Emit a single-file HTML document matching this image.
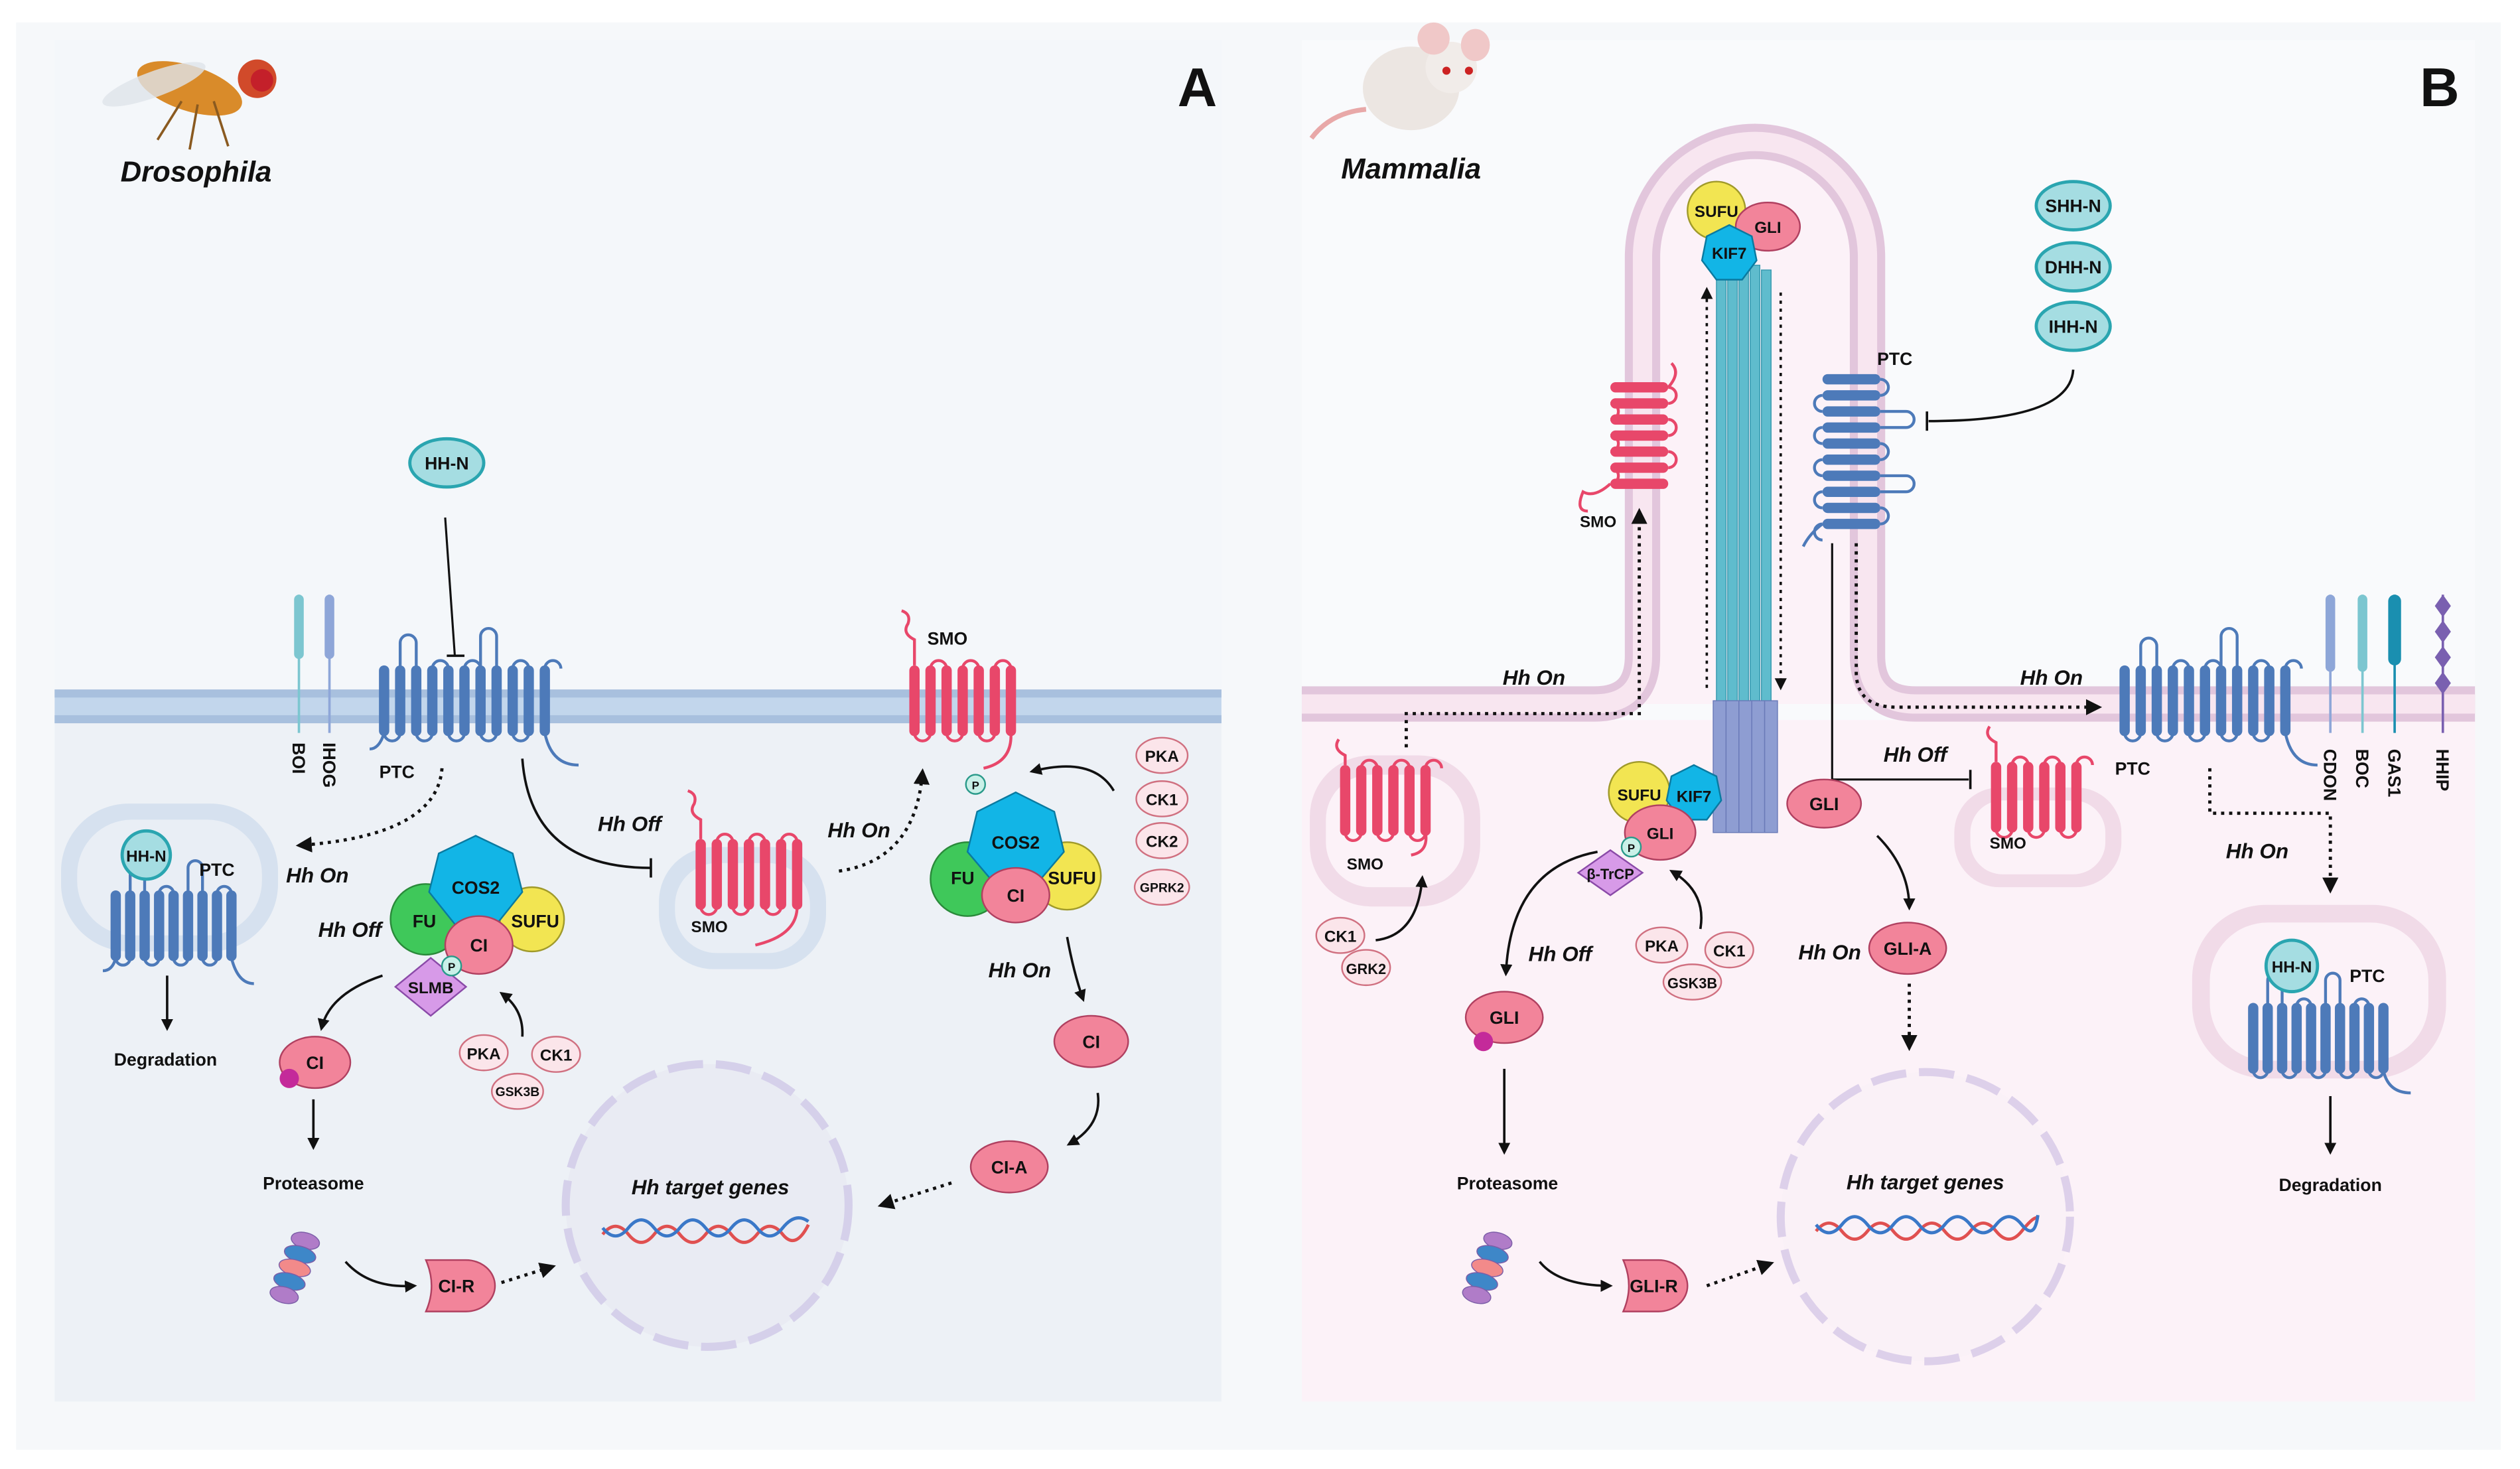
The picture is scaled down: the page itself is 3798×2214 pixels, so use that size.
<!DOCTYPE html>
<html><head><meta charset="utf-8"><style>
html,body{margin:0;padding:0;background:#fff}
svg{display:block}
text{font-family:"Liberation Sans",sans-serif;font-weight:bold;fill:#111}
.it{font-style:italic}
.s{font-size:11px}
.lb{fill:none;stroke:#4d7ab9;stroke-width:1.8}
.lr{fill:none;stroke:#e8476a;stroke-width:1.8}
</style></head><body>
<svg width="3798" height="2214" viewBox="0 0 1568 914" preserveAspectRatio="none" xmlns="http://www.w3.org/2000/svg">
<defs>
<marker id="ar" viewBox="0 0 10 10" refX="8" refY="5" markerWidth="5" markerHeight="5" orient="auto"><path d="M0,0L10,5L0,10z" fill="#111"/></marker>
<rect id="bb" x="-3.2" y="0" width="6.4" height="44" rx="3.2" fill="#4d7ab9"/>
<rect id="rb" x="-3.2" y="0" width="6.4" height="44" rx="3.2" fill="#e8476a"/>
<rect id="hb" x="0" y="-3.2" width="36" height="6.4" rx="3.2" fill="#e8476a"/>
<rect id="hbb" x="0" y="-3.2" width="36" height="6.4" rx="3.2" fill="#4d7ab9"/>
<g id="pro" transform="rotate(15)"><g stroke="#7c5ea8" stroke-width="0.6"><ellipse cx="0" cy="0" rx="9" ry="5" fill="#b07cc8"/><ellipse cx="-1" cy="9" rx="10" ry="5" fill="#3e87c8"/><ellipse cx="-2" cy="18" rx="10" ry="5" fill="#f28a8a"/><ellipse cx="-3" cy="27" rx="10" ry="5" fill="#3e87c8"/><ellipse cx="-4" cy="36" rx="9" ry="5" fill="#b07cc8"/></g></g>
</defs>
<rect x="0" y="0" width="1568" height="914" fill="#fff"/>
<rect x="10" y="14" width="1546" height="888" fill="#f6f8fa"/>
<!-- Panel A -->
<rect x="34" y="25" width="726" height="847" fill="#f4f7fa"/>
<rect x="34" y="448" width="726" height="424" fill="#edf1f6"/>
<rect x="34" y="429" width="726" height="21" fill="#c2d6ec"/>
<rect x="34" y="429" width="726" height="5" fill="#a8c0de"/>
<rect x="34" y="445" width="726" height="5" fill="#a8c0de"/>
<!-- Panel B -->
<rect x="810" y="25" width="730" height="847" fill="#f9fafc"/>
<rect x="810" y="448" width="730" height="424" fill="#fcf2f8"/>
<path d="M1022,438 V160 A70,72 0 0 1 1162,160 V438z" fill="#fcf2f8"/>
<path d="M810,438 H992 Q1022,438 1022,408 V160 A70,72 0 0 1 1162,160 V408 Q1162,438 1192,438 H1540" fill="none" stroke="#e2c6dc" stroke-width="22"/>
<path d="M810,438 H992 Q1022,438 1022,408 V160 A70,72 0 0 1 1162,160 V408 Q1162,438 1192,438 H1540" fill="none" stroke="#f8e6f0" stroke-width="12"/>
<!-- titles -->
<g transform="translate(118,55)"><ellipse cx="0" cy="0" rx="34" ry="14" fill="#d98b2a" transform="rotate(18)"/><ellipse cx="-20" cy="-10" rx="34" ry="8" fill="#dfe4ea" opacity=".8" transform="rotate(-20)"/><circle cx="42" cy="-6" r="12" fill="#d14a2a"/><circle cx="45" cy="-5" r="7" fill="#c4202a"/><g stroke="#8a5a20" stroke-width="1.5"><line x1="-5" y1="8" x2="-20" y2="32"/><line x1="5" y1="10" x2="0" y2="38"/><line x1="15" y1="8" x2="24" y2="36"/></g></g>
<text x="122" y="113" font-size="18" class="it" text-anchor="middle">Drosophila</text>
<text x="745" y="66" font-size="34" text-anchor="middle">A</text>
<g transform="translate(878,50)"><ellipse cx="0" cy="5" rx="30" ry="26" fill="#ece6e2"/><circle cx="25" cy="-8" r="16" fill="#f1ece9"/><ellipse cx="14" cy="-26" rx="10" ry="10" fill="#f0c8c8"/><ellipse cx="40" cy="-22" rx="9" ry="10" fill="#f0c8c8"/><circle cx="22" cy="-6" r="2.5" fill="#c22"/><circle cx="36" cy="-6" r="2.5" fill="#c22"/><path d="M-28,18 Q-50,20 -62,36" stroke="#e8a8a8" stroke-width="3" fill="none"/></g>
<text x="878" y="111" font-size="18" class="it" text-anchor="middle">Mammalia</text>
<text x="1518" y="66" font-size="34" text-anchor="middle">B</text>

<!-- A: HH-N and PTC -->
<ellipse cx="278" cy="288" rx="23" ry="15" fill="#a5dde2" stroke="#2aa5b0" stroke-width="2"/>
<text x="278" y="292" font-size="11" text-anchor="middle">HH-N</text>
<path d="M277,322 L283,408" stroke="#111" stroke-width="1.3" fill="none"/><line x1="278" y1="408" x2="289" y2="408" stroke="#111" stroke-width="1.5"/>
<line x1="186" y1="370" x2="186" y2="456" stroke="#7cc6d0" stroke-width="1.5"/><rect x="183" y="370" width="6" height="40" rx="3" fill="#7cc6d0"/>
<line x1="205" y1="370" x2="205" y2="456" stroke="#8ea6d8" stroke-width="1.5"/><rect x="202" y="370" width="6" height="40" rx="3" fill="#8ea6d8"/>
<text transform="translate(182,462) rotate(90)" class="s">BOI</text>
<text transform="translate(201,462) rotate(90)" class="s">IHOG</text>
<g transform="translate(239,414)"><use href="#bb" x="0"/><use href="#bb" x="10"/><use href="#bb" x="20"/><use href="#bb" x="30"/><use href="#bb" x="40"/><use href="#bb" x="50"/><use href="#bb" x="60"/><use href="#bb" x="70"/><use href="#bb" x="80"/><use href="#bb" x="90"/><use href="#bb" x="100"/></g>
<path class="lb" d="M249,416 V400 A5,5 0 0 1 259,400 V416 m10,0 a5,5 0 0 1 10,0 m10,0 a5,5 0 0 1 10,0 M299,416 V396 A5,5 0 0 1 309,396 V416 m10,0 a5,5 0 0 1 10,0 m10,0 a5,5 0 0 1 10,0"/>
<path class="lb" d="M239,456 a5,5 0 0 0 10,0 m10,0 a5,5 0 0 0 10,0 m10,0 a5,5 0 0 0 10,0 m10,0 a5,5 0 0 0 10,0 m10,0 a5,5 0 0 0 10,0 M339,456 Q343,476 360,476 M239,456 Q236,466 230,466"/>
<text x="236" y="484" class="s">PTC</text>
<!-- vesicle A left -->
<rect x="38" y="500" width="135" height="92" rx="42" fill="#d6e1ef"/>
<rect x="48" y="510" width="115" height="72" rx="34" fill="#e9eef5"/>
<g transform="translate(72,554)"><use href="#bb" x="0"/><use href="#bb" x="9"/><use href="#bb" x="18"/><use href="#bb" x="27"/><use href="#bb" x="36"/><use href="#bb" x="45"/><use href="#bb" x="54"/><use href="#bb" x="63"/><use href="#bb" x="72"/></g>
<path class="lb" d="M81,556 V540 A4.5,4.5 0 0 1 90,540 V556 m9,0 a4.5,4.5 0 0 1 9,0 m9,0 V540 A4.5,4.5 0 0 1 126,540 V556 m9,0 a4.5,4.5 0 0 1 9,0"/>
<path class="lb" d="M72,596 a4.5,4.5 0 0 0 9,0 m9,0 a4.5,4.5 0 0 0 9,0 m9,0 a4.5,4.5 0 0 0 9,0 m9,0 a4.5,4.5 0 0 0 9,0 M144,596 Q148,612 158,612 M72,596 Q70,604 64,604"/>
<circle cx="91" cy="532" r="15" fill="#a5dde2" stroke="#2aa5b0" stroke-width="2"/>
<text x="91" y="536" font-size="10" text-anchor="middle">HH-N</text>
<text x="124" y="545" class="s">PTC</text>
<text x="178" y="549" font-size="13" class="it">Hh On</text>
<path d="M275,478 Q272,520 186,526" fill="none" stroke="#111" stroke-width="2" stroke-dasharray="2,3" marker-end="url(#ar)"/>
<line x1="104" y1="607" x2="104" y2="640" stroke="#111" stroke-width="1.5" marker-end="url(#ar)"/>
<text x="103" y="663" font-size="11" text-anchor="middle">Degradation</text>
<!-- complex A left -->
<circle cx="265" cy="572" r="22" fill="#3fc85a" stroke="#2a8a3a"/>
<circle cx="331" cy="572" r="20" fill="#f2e552" stroke="#a09a2a"/>
<polygon points="296,520 319,531 325,555 309,575 283,575 267,555 273,531" fill="#12b5e6" stroke="#0a7aa0"/>
<ellipse cx="298" cy="588" rx="21" ry="18" fill="#f2849a" stroke="#b04060"/>
<text x="296" y="556" class="s" text-anchor="middle">COS2</text>
<text x="264" y="577" class="s" text-anchor="middle">FU</text>
<text x="333" y="577" class="s" text-anchor="middle">SUFU</text>
<text x="298" y="592" class="s" text-anchor="middle">CI</text>
<polygon points="268,596 290,614 268,632 246,614" fill="#d79ae8" stroke="#8a4aa8"/>
<text x="268" y="618" font-size="10" text-anchor="middle">SLMB</text>
<circle cx="281" cy="601" r="6" fill="#c9f0e8" stroke="#2a9a8a"/><text x="281" y="604" font-size="7" text-anchor="middle">P</text>
<text x="198" y="583" font-size="13" class="it">Hh Off</text>
<path d="M238,607 Q205,618 200,640" fill="none" stroke="#111" stroke-width="1.5" marker-end="url(#ar)"/>
<path d="M325,645 Q326,628 312,618" fill="none" stroke="#111" stroke-width="1.5" marker-end="url(#ar)"/>
<g stroke="#d07080" stroke-width="1" fill="#fbe5ea"><ellipse cx="301" cy="655" rx="15" ry="11"/><ellipse cx="346" cy="656" rx="15" ry="11"/><ellipse cx="322" cy="679" rx="16" ry="11"/></g>
<text x="301" y="659" font-size="10" text-anchor="middle">PKA</text><text x="346" y="660" font-size="10" text-anchor="middle">CK1</text><text x="322" y="682" font-size="8" text-anchor="middle">GSK3B</text>
<ellipse cx="196" cy="661" rx="22" ry="16" fill="#f2849a" stroke="#b04060"/><text x="196" y="665" class="s" text-anchor="middle">CI</text>
<circle cx="180" cy="671" r="6" fill="#c42a9a"/>
<line x1="195" y1="684" x2="195" y2="714" stroke="#111" stroke-width="1.5" marker-end="url(#ar)"/>
<text x="195" y="740" font-size="11" text-anchor="middle">Proteasome</text>
<use href="#pro" x="190" y="772"/>
<path d="M215,785 Q230,802 258,800" fill="none" stroke="#111" stroke-width="1.5" marker-end="url(#ar)"/>
<path d="M265,784 H290 A18,16 0 0 1 290,816 H265 Q272,800 265,784z" fill="#f2849a" stroke="#b04060"/><text x="284" y="804" font-size="11" text-anchor="middle">CI-R</text>
<path d="M312,798 L344,788" fill="none" stroke="#111" stroke-width="2" stroke-dasharray="2,3" marker-end="url(#ar)"/>
<!-- nucleus A -->
<circle cx="440" cy="750" r="88" fill="#e9ebf3" stroke="#d5d0ea" stroke-width="5" stroke-dasharray="22,8"/>
<text x="442" y="743" font-size="13" class="it" text-anchor="middle">Hh target genes</text>
<path d="M375,768 q8,-10 16,0 t16,0 t16,0 t16,0 t16,0 t16,0 t16,0 t16,-6" fill="none" stroke="#e05050" stroke-width="2"/>
<path d="M375,764 q8,10 16,0 t16,0 t16,0 t16,0 t16,0 t16,0 t16,0 t16,-4" fill="none" stroke="#3a78c8" stroke-width="2"/>
<!-- PTC Hh Off to SMO vesicle -->
<path d="M325,472 Q330,540 405,540" fill="none" stroke="#111" stroke-width="1.5"/><line x1="405" y1="534" x2="405" y2="546" stroke="#111" stroke-width="1.5"/>
<text x="372" y="517" font-size="13" class="it">Hh Off</text>
<rect x="410" y="527" width="104" height="76" rx="34" fill="#d6e1ef"/><rect x="420" y="537" width="84" height="56" rx="26" fill="#e9eef5"/>
<g transform="translate(436,522)"><use href="#rb"/><use href="#rb" x="10"/><use href="#rb" x="20"/><use href="#rb" x="30"/><use href="#rb" x="40"/><use href="#rb" x="50"/><use href="#rb" x="60"/></g>
<path class="lr" d="M446,524 a5,5 0 0 1 10,0 m10,0 a5,5 0 0 1 10,0 m10,0 a5,5 0 0 1 10,0 M436,564 a5,5 0 0 0 10,0 m10,0 a5,5 0 0 0 10,0 m10,0 a5,5 0 0 0 10,0"/>
<path class="lr" d="M436,522 V510 Q428,506 432,500 Q434,494 428,492"/>
<path class="lr" d="M496,564 Q496,582 470,588"/>
<text x="430" y="580" font-size="10">SMO</text>
<text x="515" y="521" font-size="13" class="it">Hh On</text>
<path d="M522,542 Q570,535 574,480" fill="none" stroke="#111" stroke-width="2" stroke-dasharray="2,3" marker-end="url(#ar)"/>
<!-- SMO membrane A -->
<g transform="translate(569,414)"><use href="#rb"/><use href="#rb" x="10"/><use href="#rb" x="20"/><use href="#rb" x="30"/><use href="#rb" x="40"/><use href="#rb" x="50"/><use href="#rb" x="60"/></g>
<path class="lr" d="M579,416 a5,5 0 0 1 10,0 m10,0 a5,5 0 0 1 10,0 m10,0 a5,5 0 0 1 10,0 M569,456 a5,5 0 0 0 10,0 m10,0 a5,5 0 0 0 10,0 m10,0 a5,5 0 0 0 10,0"/>
<path class="lr" d="M569,414 V398 Q561,394 565,388 Q567,382 561,380"/>
<path class="lr" d="M629,456 Q630,474 612,478"/>
<text x="577" y="401" font-size="11">SMO</text>
<!-- complex A right -->
<circle cx="602" cy="547" r="23" fill="#3fc85a" stroke="#2a8a3a"/>
<circle cx="664" cy="545" r="21" fill="#f2e552" stroke="#a09a2a"/>
<polygon points="632,493 656,505 662,530 645,550 619,550 602,530 608,505" fill="#12b5e6" stroke="#0a7aa0"/>
<ellipse cx="632" cy="557" rx="21" ry="17" fill="#f2849a" stroke="#b04060"/>
<text x="632" y="528" class="s" text-anchor="middle">COS2</text><text x="599" y="550" class="s" text-anchor="middle">FU</text><text x="667" y="550" class="s" text-anchor="middle">SUFU</text><text x="632" y="561" class="s" text-anchor="middle">CI</text>
<circle cx="607" cy="488" r="6" fill="#c9f0e8" stroke="#2a9a8a"/><text x="607" y="491" font-size="7" text-anchor="middle">P</text>
<path d="M693,492 Q680,470 642,480" fill="none" stroke="#111" stroke-width="1.5" marker-end="url(#ar)"/>
<g stroke="#d07080" stroke-width="1" fill="#fbe5ea"><ellipse cx="723" cy="470" rx="16" ry="11"/><ellipse cx="723" cy="497" rx="16" ry="11"/><ellipse cx="723" cy="523" rx="16" ry="11"/><ellipse cx="723" cy="552" rx="17" ry="11"/></g>
<text x="723" y="474" font-size="10" text-anchor="middle">PKA</text><text x="723" y="501" font-size="10" text-anchor="middle">CK1</text><text x="723" y="527" font-size="10" text-anchor="middle">CK2</text><text x="723" y="555" font-size="8" text-anchor="middle">GPRK2</text>
<text x="615" y="608" font-size="13" class="it">Hh On</text>
<path d="M664,583 Q668,605 674,622" fill="none" stroke="#111" stroke-width="1.5" marker-end="url(#ar)"/>
<ellipse cx="679" cy="648" rx="23" ry="16" fill="#f2849a" stroke="#b04060"/><text x="679" y="652" class="s" text-anchor="middle">CI</text>
<path d="M683,680 Q686,700 665,712" fill="none" stroke="#111" stroke-width="1.5" marker-end="url(#ar)"/>
<ellipse cx="628" cy="726" rx="24" ry="16" fill="#f2849a" stroke="#b04060"/><text x="628" y="730" class="s" text-anchor="middle">CI-A</text>
<path d="M592,736 L548,750" fill="none" stroke="#111" stroke-width="2" stroke-dasharray="2,3" marker-end="url(#ar)"/>

<!-- B: cilium -->
<g fill="#5fbccd" stroke="#3a9ab0" stroke-width="0.6"><rect x="1068" y="168" width="6" height="270"/><rect x="1075" y="165" width="6" height="273"/><rect x="1082" y="163" width="6" height="275"/><rect x="1089" y="165" width="6" height="273"/><rect x="1096" y="168" width="6" height="270"/></g>
<g fill="#8e9dd2" stroke="#6a7ab8" stroke-width="0.6"><rect x="1066" y="436" width="8" height="82"/><rect x="1074" y="436" width="8" height="82"/><rect x="1082" y="436" width="8" height="82"/><rect x="1090" y="436" width="8" height="82"/><rect x="1098" y="436" width="8" height="82"/></g>
<circle cx="1068" cy="131" r="18" fill="#f2e552" stroke="#a09a2a"/>
<ellipse cx="1100" cy="141" rx="20" ry="15" fill="#f2849a" stroke="#b04060"/>
<polygon points="1076,140 1090,147 1093,162 1084,174 1068,174 1059,162 1062,147" fill="#12b5e6" stroke="#0a7aa0"/>
<text x="1068" y="135" font-size="10" text-anchor="middle">SUFU</text><text x="1100" y="145" font-size="10" text-anchor="middle">GLI</text><text x="1076" y="161" font-size="10" text-anchor="middle">KIF7</text>
<line x1="1062" y1="428" x2="1062" y2="180" stroke="#111" stroke-width="1.5" stroke-dasharray="2,3" marker-end="url(#ar)"/>
<line x1="1108" y1="182" x2="1108" y2="428" stroke="#111" stroke-width="1.5" stroke-dasharray="2,3" marker-end="url(#ar)"/>
<!-- SMO in cilium -->
<g transform="translate(1002,241)"><use href="#hb"/><use href="#hb" y="10"/><use href="#hb" y="20"/><use href="#hb" y="30"/><use href="#hb" y="40"/><use href="#hb" y="50"/><use href="#hb" y="60"/></g>
<path class="lr" d="M1038,241 a5,5 0 0 1 0,10 m0,10 a5,5 0 0 1 0,10 m0,10 a5,5 0 0 1 0,10 M1002,251 a5,5 0 0 1 0,10 m0,10 a5,5 0 0 1 0,10 m0,10 a5,5 0 0 1 0,10"/>
<path class="lr" d="M1038,241 Q1046,232 1040,226"/>
<path class="lr" d="M1002,301 Q992,310 985,306 Q980,318 988,318"/>
<text x="983" y="328" font-size="10">SMO</text>
<path d="M875,465 V444 H1020 V318" fill="none" stroke="#111" stroke-width="2" stroke-dasharray="2,3" marker-end="url(#ar)"/>
<text x="935" y="426" font-size="13" class="it">Hh On</text>
<!-- PTC in cilium -->
<g transform="translate(1134,236)"><use href="#hbb"/><use href="#hbb" y="10"/><use href="#hbb" y="20"/><use href="#hbb" y="30"/><use href="#hbb" y="40"/><use href="#hbb" y="50"/><use href="#hbb" y="60"/><use href="#hbb" y="70"/><use href="#hbb" y="80"/><use href="#hbb" y="90"/></g>
<path class="lb" d="M1170,236 a5,5 0 0 1 0,10 M1170,256 H1186 a5,5 0 0 1 0,10 H1170 m0,10 a5,5 0 0 1 0,10 m0,10 H1186 a5,5 0 0 1 0,10 H1170 m0,10 a5,5 0 0 1 0,10"/>
<path class="lb" d="M1134,246 a5,5 0 0 0 0,10 m0,10 a5,5 0 0 0 0,10 m0,10 a5,5 0 0 0 0,10 m0,10 a5,5 0 0 0 0,10 m0,10 a5,5 0 0 0 0,10 M1134,326 Q1126,332 1122,340"/>
<text x="1168" y="227" font-size="11">PTC</text>
<g stroke="#2aa5b0" stroke-width="2" fill="#a5dde2"><ellipse cx="1290" cy="128" rx="23" ry="15"/><ellipse cx="1290" cy="166" rx="23" ry="15"/><ellipse cx="1290" cy="203" rx="23" ry="15"/></g>
<text x="1290" y="132" font-size="11" text-anchor="middle">SHH-N</text><text x="1290" y="170" font-size="11" text-anchor="middle">DHH-N</text><text x="1290" y="207" font-size="11" text-anchor="middle">IHH-N</text>
<path d="M1290,230 Q1288,262 1200,262" fill="none" stroke="#111" stroke-width="1.5"/><line x1="1199" y1="256" x2="1199" y2="268" stroke="#111" stroke-width="1.5"/>
<path d="M1155,338 V418 Q1155,440 1180,440 H1306" fill="none" stroke="#111" stroke-width="2" stroke-dasharray="2,3" marker-end="url(#ar)"/>
<text x="1257" y="426" font-size="13" class="it">Hh On</text>
<path d="M1140,338 V485 H1225" fill="none" stroke="#111" stroke-width="1.3"/><line x1="1226" y1="479" x2="1226" y2="491" stroke="#111" stroke-width="1.5"/>
<text x="1172" y="474" font-size="13" class="it">Hh Off</text>
<!-- SMO vesicle right B -->
<rect x="1216" y="490" width="104" height="62" rx="28" fill="#f1dbe8"/><rect x="1226" y="498" width="84" height="46" rx="20" fill="#fcf2f8"/>
<g transform="translate(1242,474)"><use href="#rb"/><use href="#rb" x="10"/><use href="#rb" x="20"/><use href="#rb" x="30"/><use href="#rb" x="40"/><use href="#rb" x="50"/></g>
<path class="lr" d="M1252,476 a5,5 0 0 1 10,0 m10,0 a5,5 0 0 1 10,0 m10,0 a5,5 0 0 1 10,0 M1242,516 a5,5 0 0 0 10,0 m10,0 a5,5 0 0 0 10,0 m10,0 a5,5 0 0 0 10,0"/>
<path class="lr" d="M1242,474 V462 Q1234,458 1238,452"/>
<text x="1238" y="528" font-size="10">SMO</text>
<!-- PTC membrane B -->
<g transform="translate(1322,414)"><use href="#bb"/><use href="#bb" x="10"/><use href="#bb" x="20"/><use href="#bb" x="30"/><use href="#bb" x="40"/><use href="#bb" x="50"/><use href="#bb" x="60"/><use href="#bb" x="70"/><use href="#bb" x="80"/><use href="#bb" x="90"/><use href="#bb" x="100"/></g>
<path class="lb" d="M1332,416 V402 A5,5 0 0 1 1342,402 V416 m10,0 a5,5 0 0 1 10,0 m10,0 a5,5 0 0 1 10,0 M1382,416 V396 A5,5 0 0 1 1392,396 V416 m10,0 a5,5 0 0 1 10,0 m10,0 a5,5 0 0 1 10,0"/>
<path class="lb" d="M1322,456 a5,5 0 0 0 10,0 m10,0 a5,5 0 0 0 10,0 m10,0 a5,5 0 0 0 10,0 m10,0 a5,5 0 0 0 10,0 m10,0 a5,5 0 0 0 10,0 M1422,456 Q1426,476 1442,476"/>
<text x="1316" y="482" class="s">PTC</text>
<line x1="1450" y1="370" x2="1450" y2="456" stroke="#8ea6d8" stroke-width="1.5"/><rect x="1447" y="370" width="6" height="48" rx="3" fill="#8ea6d8"/>
<line x1="1470" y1="370" x2="1470" y2="456" stroke="#7cc6d0" stroke-width="1.5"/><rect x="1467" y="370" width="6" height="48" rx="3" fill="#7cc6d0"/>
<line x1="1490" y1="370" x2="1490" y2="456" stroke="#1a8fb0" stroke-width="1.5"/><rect x="1486" y="370" width="8" height="44" rx="4" fill="#1a8fb0"/>
<line x1="1520" y1="370" x2="1520" y2="456" stroke="#7a60b0" stroke-width="1.5"/>
<g fill="#7a60b0"><polygon points="1520,370 1525,377 1520,384 1515,377"/><polygon points="1520,386 1525,393 1520,400 1515,393"/><polygon points="1520,402 1525,409 1520,416 1515,409"/><polygon points="1520,418 1525,425 1520,432 1515,425"/></g>
<text transform="translate(1446,466) rotate(90)" class="s">CDON</text>
<text transform="translate(1466,466) rotate(90)" class="s">BOC</text>
<text transform="translate(1486,466) rotate(90)" class="s">GAS1</text>
<text transform="translate(1516,466) rotate(90)" class="s">HHIP</text>
<path d="M1375,478 V506 H1450 V554" fill="none" stroke="#111" stroke-width="2" stroke-dasharray="2,3" marker-end="url(#ar)"/>
<text x="1385" y="534" font-size="13" class="it">Hh On</text>
<rect x="1364" y="563" width="158" height="108" rx="46" fill="#f1dbe8"/><rect x="1375" y="574" width="136" height="86" rx="36" fill="#fcf2f8"/>
<g transform="translate(1402,624)"><use href="#bb"/><use href="#bb" x="9"/><use href="#bb" x="18"/><use href="#bb" x="27"/><use href="#bb" x="36"/><use href="#bb" x="45"/><use href="#bb" x="54"/><use href="#bb" x="63"/><use href="#bb" x="72"/><use href="#bb" x="81"/></g>
<path class="lb" d="M1411,626 V610 A4.5,4.5 0 0 1 1420,610 V626 m9,0 a4.5,4.5 0 0 1 9,0 m9,0 V610 A4.5,4.5 0 0 1 1456,610 V626 m9,0 a4.5,4.5 0 0 1 9,0"/>
<path class="lb" d="M1402,666 a4.5,4.5 0 0 0 9,0 m9,0 a4.5,4.5 0 0 0 9,0 m9,0 a4.5,4.5 0 0 0 9,0 m9,0 a4.5,4.5 0 0 0 9,0 m9,0 a4.5,4.5 0 0 0 9,0 M1483,666 Q1486,680 1500,680"/>
<circle cx="1426" cy="601" r="16" fill="#a5dde2" stroke="#2aa5b0" stroke-width="2"/><text x="1426" y="605" font-size="10" text-anchor="middle">HH-N</text>
<text x="1462" y="611" class="s">PTC</text>
<line x1="1450" y1="682" x2="1450" y2="717" stroke="#111" stroke-width="1.5" marker-end="url(#ar)"/>
<text x="1450" y="741" font-size="11" text-anchor="middle">Degradation</text>
<!-- SMO vesicle left B -->
<rect x="815" y="470" width="106" height="94" rx="38" fill="#f1dbe8"/><rect x="825" y="482" width="86" height="70" rx="28" fill="#fcf2f8"/>
<g transform="translate(837,476)"><use href="#rb"/><use href="#rb" x="10"/><use href="#rb" x="20"/><use href="#rb" x="30"/><use href="#rb" x="40"/><use href="#rb" x="50"/></g>
<path class="lr" d="M847,478 a5,5 0 0 1 10,0 m10,0 a5,5 0 0 1 10,0 m10,0 a5,5 0 0 1 10,0 M837,518 a5,5 0 0 0 10,0 m10,0 a5,5 0 0 0 10,0 m10,0 a5,5 0 0 0 10,0"/>
<path class="lr" d="M837,476 V470 Q829,466 833,460"/>
<path class="lr" d="M887,518 Q889,530 878,532"/>
<text x="838" y="541" font-size="10">SMO</text>
<g stroke="#d07080" stroke-width="1" fill="#fbe5ea"><ellipse cx="834" cy="582" rx="15" ry="11"/><ellipse cx="850" cy="602" rx="15" ry="11"/></g>
<text x="834" y="586" font-size="10" text-anchor="middle">CK1</text><text x="850" y="606" font-size="9" text-anchor="middle">GRK2</text>
<path d="M856,585 Q882,582 885,546" fill="none" stroke="#111" stroke-width="1.5" marker-end="url(#ar)"/>
<!-- complex B -->
<circle cx="1020" cy="493" r="19" fill="#f2e552" stroke="#a09a2a"/>
<polygon points="1054,476 1068,483 1071,498 1062,510 1046,510 1037,498 1040,483" fill="#12b5e6" stroke="#0a7aa0"/>
<ellipse cx="1033" cy="518" rx="22" ry="17" fill="#f2849a" stroke="#b04060"/>
<text x="1020" y="498" font-size="10" text-anchor="middle">SUFU</text><text x="1054" y="499" font-size="10" text-anchor="middle">KIF7</text><text x="1033" y="522" font-size="10" text-anchor="middle">GLI</text>
<polygon points="1002,529 1022,543 1002,557 982,543" fill="#d79ae8" stroke="#8a4aa8"/>
<text x="1002" y="547" font-size="9" text-anchor="middle">β-TrCP</text>
<circle cx="1015" cy="527" r="6" fill="#c9f0e8" stroke="#2a9a8a"/><text x="1015" y="530" font-size="7" text-anchor="middle">P</text>
<g stroke="#d07080" stroke-width="1" fill="#fbe5ea"><ellipse cx="1034" cy="588" rx="16" ry="11"/><ellipse cx="1076" cy="591" rx="15" ry="11"/><ellipse cx="1053" cy="611" rx="18" ry="11"/></g>
<text x="1034" y="592" font-size="10" text-anchor="middle">PKA</text><text x="1076" y="595" font-size="10" text-anchor="middle">CK1</text><text x="1053" y="615" font-size="9" text-anchor="middle">GSK3B</text>
<path d="M1058,578 Q1062,555 1040,542" fill="none" stroke="#111" stroke-width="1.5" marker-end="url(#ar)"/>
<path d="M994,530 Q940,540 937,606" fill="none" stroke="#111" stroke-width="1.5" marker-end="url(#ar)"/>
<text x="951" y="598" font-size="13" class="it">Hh Off</text>
<ellipse cx="936" cy="633" rx="24" ry="16" fill="#f2849a" stroke="#b04060"/><text x="936" y="637" class="s" text-anchor="middle">GLI</text>
<circle cx="923" cy="648" r="6" fill="#c42a9a"/>
<line x1="936" y1="665" x2="936" y2="717" stroke="#111" stroke-width="1.5" marker-end="url(#ar)"/>
<text x="938" y="740" font-size="11" text-anchor="middle">Proteasome</text>
<use href="#pro" x="932" y="772"/>
<path d="M958,785 Q970,800 1002,800" fill="none" stroke="#111" stroke-width="1.5" marker-end="url(#ar)"/>
<path d="M1010,784 H1032 A18,16 0 0 1 1032,816 H1010 Q1017,800 1010,784z" fill="#f2849a" stroke="#b04060"/><text x="1029" y="804" font-size="11" text-anchor="middle">GLI-R</text>
<path d="M1062,800 L1102,786" fill="none" stroke="#111" stroke-width="2" stroke-dasharray="2,3" marker-end="url(#ar)"/>
<ellipse cx="1135" cy="500" rx="23" ry="15" fill="#f2849a" stroke="#b04060"/><text x="1135" y="504" class="s" text-anchor="middle">GLI</text>
<path d="M1168,520 Q1188,540 1188,565" fill="none" stroke="#111" stroke-width="1.5" marker-end="url(#ar)"/>
<text x="1119" y="597" font-size="13" class="it">Hh On</text>
<ellipse cx="1187" cy="590" rx="24" ry="16" fill="#f2849a" stroke="#b04060"/><text x="1187" y="594" class="s" text-anchor="middle">GLI-A</text>
<line x1="1188" y1="612" x2="1188" y2="652" stroke="#111" stroke-width="2" stroke-dasharray="2,3" marker-end="url(#ar)"/>
<circle cx="1198" cy="757" r="90" fill="#faf1f7" stroke="#ddd0ea" stroke-width="5" stroke-dasharray="22,8"/>
<text x="1198" y="740" font-size="13" class="it" text-anchor="middle">Hh target genes</text>
<path d="M1130,766 q8,-10 16,0 t16,0 t16,0 t16,0 t16,0 t16,0 t16,0 t16,0 t10,-8" fill="none" stroke="#e05050" stroke-width="2"/>
<path d="M1130,762 q8,10 16,0 t16,0 t16,0 t16,0 t16,0 t16,0 t16,0 t16,0 t10,-6" fill="none" stroke="#3a78c8" stroke-width="2"/>
</svg>
</body></html>
